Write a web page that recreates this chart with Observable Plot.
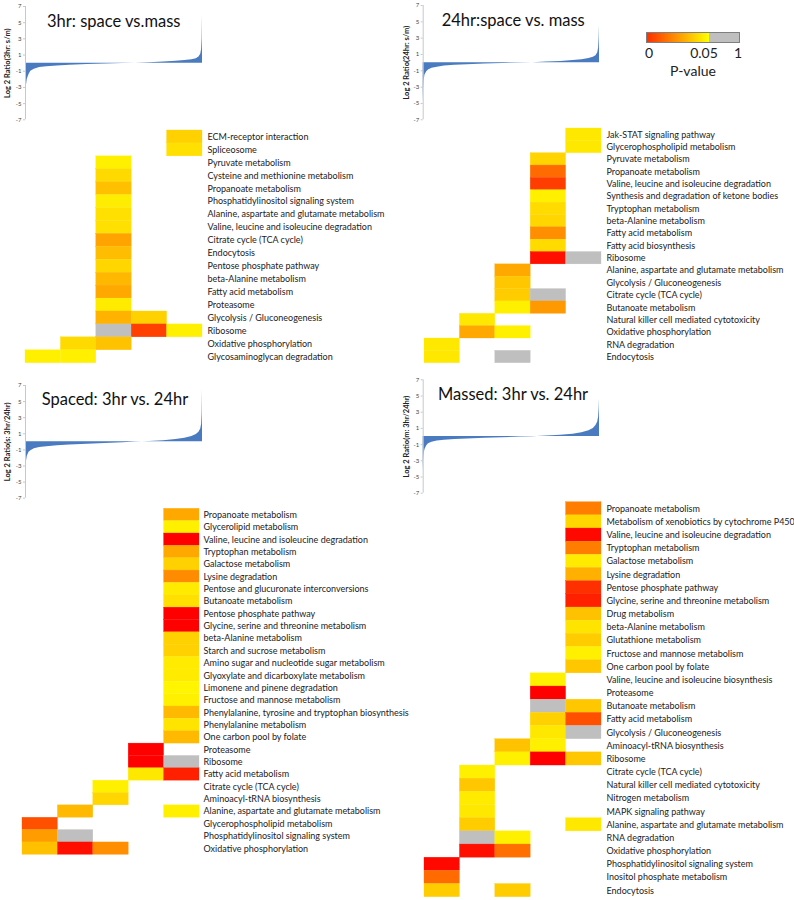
<!DOCTYPE html>
<html><head><meta charset="utf-8">
<script src="https://cdn.jsdelivr.net/npm/d3@7"></script>
<script src="https://cdn.jsdelivr.net/npm/@observablehq/plot@0.6"></script>
<style>
body{margin:0;background:#fff;}
#root{position:relative;width:794px;height:900px;overflow:hidden;font-family:Lato,"Liberation Sans",sans-serif;color:#222;}
.title{position:absolute;font-family:Lato,"Liberation Sans",sans-serif;font-size:16.5px;line-height:16.5px;color:#111;white-space:nowrap;}
.lg{position:absolute;font-family:Lato,"Liberation Sans",sans-serif;font-size:14px;line-height:14px;transform:translateX(-50%);white-space:nowrap;color:#222;}
svg{overflow:visible;}
</style></head><body><div id="root"></div>
<script>
// ---- sorted log2-ratio distributions (percent rank -> value) ----
const rankPct = [0, 0.2, 0.5, 1, 2, 3, 5, 8, 12, 18, 25, 35, 45, 55, 62, 70, 78, 85, 90, 94, 96.5, 98, 99, 99.5, 99.8, 100];
const ratio3hrSM = [-6.6, -4.5, -2.8, -2.0, -1.4, -1.0, -0.75, -0.55, -0.45, -0.35, -0.27, -0.18, -0.1, -0.04, 0.0, 0.06, 0.14, 0.22, 0.32, 0.42, 0.55, 0.75, 1.1, 1.7, 3.0, 5.9];
const ratio24hrSM = [-4.8, -3.2, -2.2, -1.5, -1.1, -0.9, -0.7, -0.55, -0.42, -0.32, -0.25, -0.17, -0.1, -0.04, 0, 0.07, 0.15, 0.25, 0.35, 0.5, 0.65, 0.85, 1.2, 1.8, 3.0, 4.6];
const ratioSpaced = [-5.3, -3.5, -2.5, -1.8, -1.3, -1.1, -0.85, -0.7, -0.6, -0.48, -0.4, -0.3, -0.2, -0.1, -0.03, 0.05, 0.15, 0.3, 0.45, 0.65, 0.9, 1.2, 1.6, 2.2, 3.5, 6.5];
const ratioMassed = [-4.3, -3.0, -2.2, -1.6, -1.15, -0.9, -0.7, -0.55, -0.45, -0.36, -0.3, -0.22, -0.15, -0.07, -0.02, 0.05, 0.15, 0.28, 0.45, 0.7, 1.0, 1.35, 1.8, 2.4, 3.4, 4.65];
const yTicks = [-7, -5, -3, -1, 1, 3, 5, 7];

// ---- pathways and enrichment cells [row, column(bin), p-value] ----
const pathways3hr = ["ECM-receptor interaction","Spliceosome","Pyruvate metabolism","Cysteine and methionine metabolism","Propanoate metabolism","Phosphatidylinositol signaling system","Alanine, aspartate and glutamate metabolism","Valine, leucine and isoleucine degradation","Citrate cycle (TCA cycle)","Endocytosis","Pentose phosphate pathway","beta-Alanine metabolism","Fatty acid metabolism","Proteasome","Glycolysis / Gluconeogenesis","Ribosome","Oxidative phosphorylation","Glycosaminoglycan degradation"];
const cells3hr = [[0,4,0.041],[1,4,0.044],[2,2,0.047],[3,2,0.0427],[4,2,0.0376],[5,2,0.0465],[6,2,0.044],[7,2,0.044],[8,2,0.032],[9,2,0.037],[10,2,0.042],[11,2,0.036],[12,2,0.033],[13,2,0.046],[14,2,0.035],[14,3,0.041],[15,2,1],[15,3,0.0125],[15,4,0.047],[16,1,0.0427],[16,2,0.038],[17,0,0.047],[17,1,0.047]];

const pathways24hr = ["Jak-STAT signaling pathway","Glycerophospholipid metabolism","Pyruvate metabolism","Propanoate metabolism","Valine, leucine and isoleucine degradation","Synthesis and degradation of ketone bodies","Tryptophan metabolism","beta-Alanine metabolism","Fatty acid metabolism","Fatty acid biosynthesis","Ribosome","Alanine, aspartate and glutamate metabolism","Glycolysis / Gluconeogenesis","Citrate cycle (TCA cycle)","Butanoate metabolism","Natural killer cell mediated cytotoxicity","Oxidative phosphorylation","RNA degradation","Endocytosis"];
const cells24hr = [[0,4,0.0455],[1,4,0.0455],[2,3,0.0416],[3,3,0.021],[4,3,0.012],[5,3,0.047],[6,3,0.043],[7,3,0.042],[8,3,0.028],[9,3,0.043],[10,3,0.003],[10,4,1],[11,2,0.033],[12,2,0.039],[13,2,0.040],[13,3,1],[14,2,0.047],[14,3,0.030],[15,1,0.0455],[16,1,0.033],[16,2,0.047],[17,0,0.0455],[18,0,0.0455],[18,2,1]];

const pathwaysSpaced = ["Propanoate metabolism","Glycerolipid metabolism","Valine, leucine and isoleucine degradation","Tryptophan metabolism","Galactose metabolism","Lysine degradation","Pentose and glucuronate interconversions","Butanoate metabolism","Pentose phosphate pathway","Glycine, serine and threonine metabolism","beta-Alanine metabolism","Starch and sucrose metabolism","Amino sugar and nucleotide sugar metabolism","Glyoxylate and dicarboxylate metabolism","Limonene and pinene degradation","Fructose and mannose metabolism","Phenylalanine, tyrosine and tryptophan biosynthesis","Phenylalanine metabolism","One carbon pool by folate","Proteasome","Ribosome","Fatty acid metabolism","Citrate cycle (TCA cycle)","Aminoacyl-tRNA biosynthesis","Alanine, aspartate and glutamate metabolism","Glycerophospholipid metabolism","Phosphatidylinositol signaling system","Oxidative phosphorylation"];
const cellsSpaced = [[0,4,0.033],[1,4,0.047],[2,4,0],[3,4,0.033],[4,4,0.041],[5,4,0.0275],[6,4,0.046],[7,4,0.044],[8,4,0],[9,4,0],[10,4,0.041],[11,4,0.041],[12,4,0.046],[13,4,0.046],[14,4,0.048],[15,4,0.047],[16,4,0.0365],[17,4,0.0447],[18,4,0.0365],[19,3,0],[20,3,0],[20,4,1],[21,3,0.0455],[21,4,0.0063],[22,2,0.047],[23,2,0.042],[24,1,0.0365],[24,4,0.047],[25,0,0.0157],[26,0,0.0306],[26,1,1],[27,0,0.0376],[27,1,0.003],[27,2,0.028]];

const pathwaysMassed = ["Propanoate metabolism","Metabolism of xenobiotics by cytochrome P450","Valine, leucine and isoleucine degradation","Tryptophan metabolism","Galactose metabolism","Lysine degradation","Pentose phosphate pathway","Glycine, serine and threonine metabolism","Drug metabolism","beta-Alanine metabolism","Glutathione metabolism","Fructose and mannose metabolism","One carbon pool by folate","Valine, leucine and isoleucine biosynthesis","Proteasome","Butanoate metabolism","Fatty acid metabolism","Glycolysis / Gluconeogenesis","Aminoacyl-tRNA biosynthesis","Ribosome","Citrate cycle (TCA cycle)","Natural killer cell mediated cytotoxicity","Nitrogen metabolism","MAPK signaling pathway","Alanine, aspartate and glutamate metabolism","RNA degradation","Oxidative phosphorylation","Phosphatidylinositol signaling system","Inositol phosphate metabolism","Endocytosis"];
const cellsMassed = [[0,4,0.0247],[1,4,0.042],[2,4,0.0016],[3,4,0.0247],[4,4,0.046],[5,4,0.0345],[6,4,0.0094],[7,4,0.0063],[8,4,0.038],[9,4,0.0447],[10,4,0.040],[11,4,0.047],[12,4,0.039],[13,3,0.047],[14,3,0],[15,3,1],[15,4,0.039],[16,3,0.041],[16,4,0.0157],[17,3,0.0455],[17,4,1],[18,2,0.038],[18,3,0.047],[19,2,0.047],[19,3,0],[19,4,0.039],[20,1,0.047],[21,1,0.039],[22,1,0.046],[23,1,0.0455],[24,1,0.040],[24,4,0.0455],[25,1,1],[25,2,0.047],[26,1,0.003],[26,2,0.022],[27,0,0.0016],[28,0,0.021],[29,0,0.040],[29,2,0.040]];

const bins = [0, 1, 2, 3, 4];
const titles = ["3hr: space vs.mass", "24hr:space vs. mass", "Spaced: 3hr vs. 24hr", "Massed: 3hr vs. 24hr"];
const yLabels = ["Log 2 Ratio(3hr: s/m)", "Log 2 Ratio(24hr: s/m)", "Log 2 Ratio(s: 3hr/24hr)", "Log 2 Ratio(m: 3hr/24hr)"];
const legendTicks = ["0", "0.05", "1"];
const legendTitle = "P-value";

const FONT = 'Lato,"Liberation Sans",sans-serif';
const root = document.getElementById("root");
function place(node, left, top) {
  node.style.position = "absolute"; node.style.left = left + "px"; node.style.top = top + "px";
  root.appendChild(node);
}

function areaChart(values, label, o) {
  const data = rankPct.map((r, i) => ({r, v: values[i]}));
  const svg = Plot.plot({
    width: o.width, height: o.height,
    marginTop: o.mt, marginBottom: o.mb, marginLeft: o.ml, marginRight: o.mr,
    style: {fontFamily: FONT, background: "transparent", color: "#444", overflow: "visible"},
    x: {domain: [0, 100], axis: null},
    y: {domain: [-7, 7], axis: null},
    marks: [
      Plot.areaY(data, {x: "r", y: "v", fill: "#4A7BC0"}),
      Plot.ruleX([0], {stroke: "#c8c8c8", strokeWidth: 1}),
      Plot.axisY({ticks: yTicks, tickFormat: d => String(d), tickSize: 2, tickPadding: 2, fontSize: 6, stroke: "#c8c8c8", label: null}),
      Plot.text([label], {frameAnchor: "left", textAnchor: "middle", rotate: -90, dx: o.labelDx, fontSize: 7.5, fontWeight: "bold", fill: "#222"})
    ]
  });
  place(svg, o.left, o.top);
}

function heatmap(names, cells, o) {
  const data = cells.map(([row, col, p]) => ({path: names[row], col, p}));
  const svg = Plot.plot({
    width: o.width, height: o.height,
    marginTop: o.mt, marginBottom: o.mb, marginLeft: o.ml, marginRight: o.mr,
    style: {fontFamily: FONT, fontSize: "9px", background: "transparent", color: "#222", overflow: "visible"},
    x: {domain: bins, padding: 0, round: false, axis: null},
    y: {domain: names, padding: 0, round: false, axis: null},
    color: {type: "linear", domain: [0, 0.05, 0.0501, 1], range: ["#ff0000", "#ffff00", "#bfbfbf", "#bfbfbf"], interpolate: "rgb"},
    marks: [
      Plot.cell(data, {x: "col", y: "path", fill: "p", inset: 0, stroke: "p", strokeWidth: 0.3}),
      Plot.axisY({anchor: "right", tickSize: 0, tickPadding: o.pad, fontSize: 9, label: null})
    ]
  });
  place(svg, o.left, o.top);
}

areaChart(ratio3hrSM, yLabels[0], {left: 0, top: 0, width: 205, height: 125, mt: 6, mb: 5.7, ml: 25, mr: 3, labelDx: -18});
areaChart(ratio24hrSM, yLabels[1], {left: 400, top: 0, width: 205, height: 125, mt: 5, mb: 5.7, ml: 22.7, mr: 6, labelDx: -17});
areaChart(ratioSpaced, yLabels[2], {left: 0, top: 370, width: 205, height: 135, mt: 15, mb: 7.3, ml: 25, mr: 3, labelDx: -18});
areaChart(ratioMassed, yLabels[3], {left: 400, top: 370, width: 205, height: 130, mt: 9.3, mb: 7.3, ml: 22.7, mr: 6, labelDx: -17});

heatmap(pathways3hr, cells3hr, {left: 0, top: 120, width: 400, height: 250, ml: 25, mr: 198, mt: 10, mb: 7.3, pad: 5});
heatmap(pathways24hr, cells24hr, {left: 400, top: 120, width: 394, height: 250, ml: 24, mr: 193, mt: 8, mb: 7.3, pad: 5});
heatmap(pathwaysSpaced, cellsSpaced, {left: 0, top: 500, width: 400, height: 360, ml: 22, mr: 201, mt: 8.3, mb: 5.7, pad: 4});
heatmap(pathwaysMassed, cellsMassed, {left: 400, top: 490, width: 394, height: 410, ml: 24, mr: 193, mt: 11.7, mb: 3.3, pad: 5});

// titles (baseline positions)
const titlePos = [[47, 28], [441.7, 26.7], [41.7, 406], [438, 400.7]];
titles.forEach((t, i) => {
  const d = document.createElement("div");
  d.className = "title"; d.textContent = t;
  place(d, titlePos[i][0], titlePos[i][1] - 14.6);
});

// legend
const bar = document.createElement("div");
bar.style.cssText = "width:94px;height:11px;box-sizing:border-box;border:1px solid #7f7f7f;background:linear-gradient(to right,#ff3000 0%,#ffff00 67%,#bfbfbf 67%,#bfbfbf 100%);";
place(bar, 646, 32);
const tickX = [649, 704, 738];
legendTicks.forEach((t, i) => {
  const s = document.createElement("div"); s.className = "lg"; s.textContent = t;
  place(s, tickX[i], 58.3 - 12.4);
});
const lt = document.createElement("div"); lt.className = "lg"; lt.textContent = legendTitle;
place(lt, 693, 76 - 12.4);
</script></body></html>
